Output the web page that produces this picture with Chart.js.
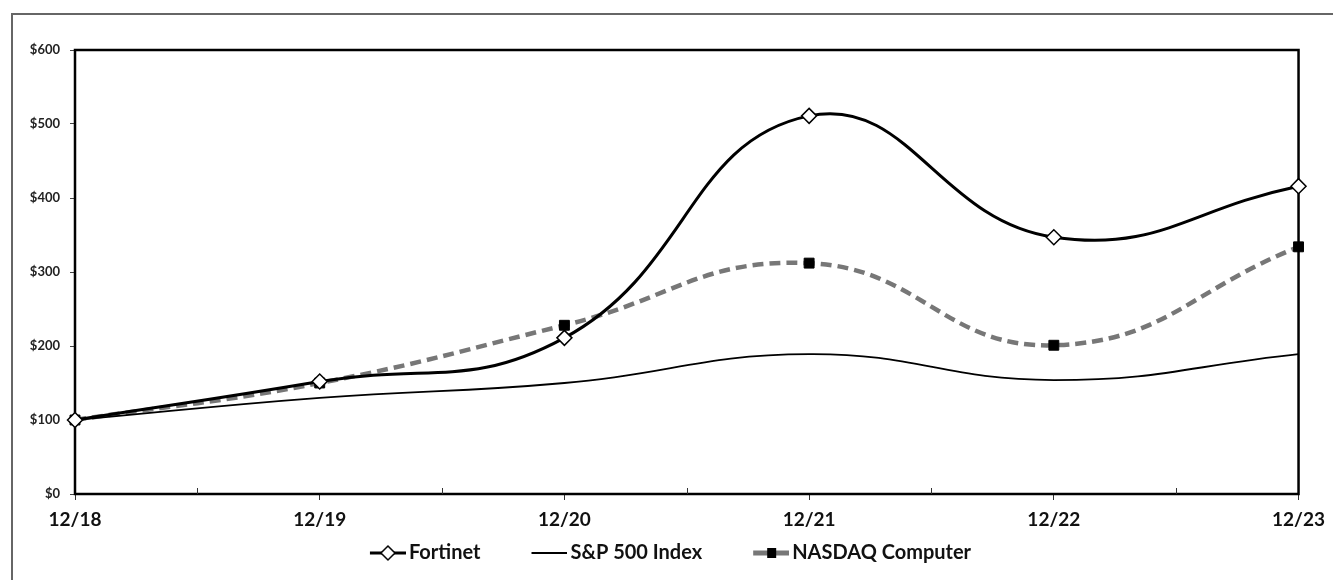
<!DOCTYPE html>
<html>
<head>
<meta charset="utf-8">
<script src="https://cdn.jsdelivr.net/npm/chart.js@4.4.1/dist/chart.umd.min.js"></script>
<style>
  html, body { margin: 0; padding: 0; background: #fff; }
  #wrap { position: relative; width: 1333px; height: 580px; overflow: hidden; }
  #frame { position: absolute; left: 11px; top: 13px; width: 1340px; height: 600px;
           border-left: 2px solid #666; border-top: 2px solid #666; }
  #chart { position: absolute; left: 0; top: 0; }
</style>
</head>
<body>
<div id="wrap">
  <div id="frame"></div>
  <canvas id="chart" width="1333" height="580"></canvas>
</div>
<script>
// cumulative value of $100 invested
const years = ['12/18', '12/19', '12/20', '12/21', '12/22', '12/23'];
const fortinet = [100, 152, 211, 511, 347, 416];
const sp500 = [100, 130, 150, 189, 154, 189];
const nasdaq = [100, 150, 228, 312, 201, 334];
const yTicks = [0, 100, 200, 300, 400, 500, 600];
const seriesNames = ['Fortinet', 'S&P 500 Index', 'NASDAQ Computer'];

const FONT = 'Lato, "Open Sans", sans-serif';

// legend samples: line with the series marker, drawn on a small canvas
const BOX_W = 68;
function legendIcon(color, width, marker) {
  const c = document.createElement('canvas');
  c.width = BOX_W + 14;
  c.height = 18;
  const g = c.getContext('2d');
  const x1 = c.width, x0 = x1 - 36, y = 9;
  g.strokeStyle = color;
  g.lineWidth = width;
  g.beginPath();
  g.moveTo(x0, y);
  g.lineTo(x1, y);
  g.stroke();
  const mx = (x0 + x1) / 2;
  if (marker === 'diamond') {
    g.fillStyle = '#fff';
    g.strokeStyle = '#000';
    g.lineWidth = 1.5;
    g.beginPath();
    g.moveTo(mx, y - 7); g.lineTo(mx + 7, y); g.lineTo(mx, y + 7); g.lineTo(mx - 7, y);
    g.closePath();
    g.fill();
    g.stroke();
  } else if (marker === 'square') {
    g.fillStyle = '#000';
    g.fillRect(mx - 4, y - 5, 9, 10);
  }
  return c;
}
const legendIcons = [
  legendIcon('#000', 3, 'diamond'),
  legendIcon('#000', 1.8, null),
  legendIcon('#777', 5, 'square')
];

// plot frame and the small tick marks between the years
const framePlugin = {
  id: 'framePlugin',
  beforeDatasetsDraw(chart) {
    const {ctx, chartArea: a, scales: {x}} = chart;
    ctx.save();
    ctx.strokeStyle = '#000';
    ctx.lineWidth = 2.5;
    ctx.strokeRect(a.left, a.top, a.right - a.left, a.bottom - a.top);
    ctx.lineWidth = 1;
    ctx.strokeStyle = '#333';
    for (let i = 0; i < years.length - 1; i++) {
      const px = Math.round(x.getPixelForValue(i + 0.5)) + 0.5;
      ctx.beginPath();
      ctx.moveTo(px, a.bottom);
      ctx.lineTo(px, a.bottom - 6);
      ctx.stroke();
    }
    ctx.restore();
  }
};

new Chart(document.getElementById('chart'), {
  type: 'line',
  data: {
    labels: years,
    datasets: [
      {
        label: seriesNames[0],
        data: fortinet,
        borderColor: '#000',
        borderWidth: 3,
        tension: 0.45,
        pointStyle: 'rectRot',
        pointRadius: 7.5,
        pointBackgroundColor: '#fff',
        pointBorderColor: '#000',
        pointBorderWidth: 1.5,
        clip: false
      },
      {
        label: seriesNames[1],
        data: sp500,
        borderColor: '#000',
        borderWidth: 1.8,
        tension: 0.45,
        pointRadius: 0,
        clip: false
      },
      {
        label: seriesNames[2],
        data: nasdaq,
        borderColor: '#777',
        borderWidth: 4.5,
        borderDash: [11, 6],
        tension: 0.45,
        pointStyle: 'rect',
        pointRadius: 7,
        pointBackgroundColor: '#000',
        pointBorderColor: '#000',
        pointBorderWidth: 1,
        clip: false
      }
    ]
  },
  options: {
    responsive: false,
    animation: false,
    events: [],
    layout: { padding: { left: 0, top: 50, right: 31, bottom: 7 } },
    plugins: {
      tooltip: { enabled: false },
      legend: {
        position: 'bottom',
        labels: {
          usePointStyle: true,
          pointStyleWidth: BOX_W,
          padding: 12,
          color: '#111',
          font: { family: FONT, size: 20, weight: 'bold' },
          generateLabels: chart =>
            Chart.defaults.plugins.legend.labels.generateLabels(chart)
              .map((item, i) => ({ ...item, pointStyle: legendIcons[i] }))
        }
      }
    },
    scales: {
      x: {
        type: 'category',
        offset: false,
        afterFit: s => { s.height = 37; },
        grid: { display: true, drawOnChartArea: false, tickLength: 6, color: '#333', offset: false },
        border: { display: false },
        ticks: {
          padding: 8,
          maxRotation: 0,
          color: '#111',
          font: { family: FONT, size: 19, weight: 'bold' }
        }
      },
      y: {
        min: 0,
        max: 600,
        afterFit: s => { s.width = 75; },
        afterBuildTicks: s => { s.ticks = yTicks.map(v => ({ value: v })); },
        grid: { display: true, drawOnChartArea: false, tickLength: 5, color: '#444' },
        border: { display: false },
        ticks: {
          padding: 10,
          color: '#222',
          font: { family: FONT, size: 13, weight: 'bold' },
          callback: v => '$' + v
        }
      }
    }
  },
  plugins: [framePlugin]
});
</script>
</body>
</html>
